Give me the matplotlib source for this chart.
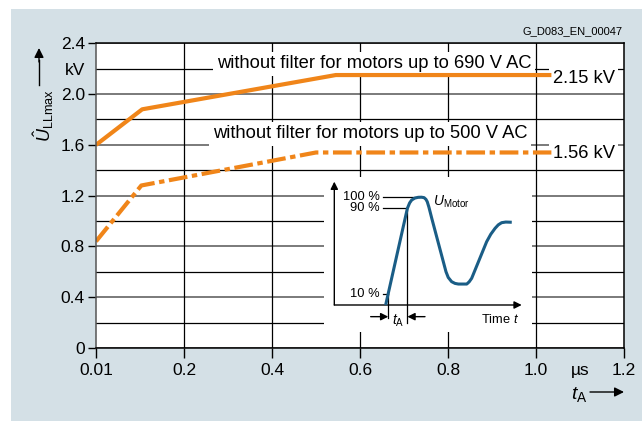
import matplotlib

matplotlib.use("Agg")
import matplotlib.pyplot as plt
from matplotlib.patches import Rectangle

plt.rcParams["font.family"] = ["Liberation Sans", "DejaVu Sans"]
plt.rcParams["mathtext.fontset"] = "custom"
plt.rcParams["mathtext.rm"] = "Liberation Sans"
plt.rcParams["mathtext.it"] = "Liberation Sans:italic"

# main chart: peak voltage over rise time (µs, kV)
t_690 = [0.0, 0.105, 0.545, 1.035]
u_690 = [1.60, 1.88, 2.15, 2.15]
t_500 = [0.0, 0.103, 0.50, 1.035]
u_500 = [0.84, 1.28, 1.54, 1.54]
label_690 = "without filter for motors up to 690 V AC"
label_500 = "without filter for motors up to 500 V AC"
value_690 = "2.15 kV"
value_500 = "1.56 kV"

x_ticks = [0.0, 0.2, 0.4, 0.6, 0.8, 1.0, 1.1, 1.2]
x_labels = ["0.01", "0.2", "0.4", "0.6", "0.8", "1.0", "µs", "1.2"]
y_ticks = [0.0, 0.4, 0.8, 1.2, 1.6, 2.0, 2.2, 2.4]
y_labels = ["0", "0.4", "0.8", "1.2", "1.6", "2.0", "kV", "2.4"]
y_minor = [0.2, 0.6, 1.0, 1.4, 1.8]
x_grid = [0.2, 0.4, 0.6, 0.8, 1.0]

# inset sketch: motor voltage over time (time in arbitrary units, %)
sketch_t = [27.4, 28.8, 39.0, 40.2, 41.3, 43.0, 44.8, 46.5, 47.9, 48.9, 49.6, 50.5, 52.0,
            59.6, 60.8, 62.6, 64.4, 66.2, 70.7, 72.0, 73.3, 81.3, 83.5, 85.8, 87.5, 89.3, 91.5, 94.7]
sketch_u = [0, 10.8, 89.5, 94.5, 97.2, 99.0, 99.7, 99.8, 99.4, 97.8, 95.6, 90.5, 80.3,
            30.8, 25.5, 21.6, 20.0, 19.4, 19.4, 21.5, 24.7, 58.6, 65.5, 71.0, 74.2, 76.2, 76.8, 76.6]
level_pct = [100, 90, 10]
level_t = [45.0, 39.0, 28.8]
t_a_start, t_a_end = 28.8, 39.0

ORANGE = "#f08519"
BLUE = "#1a5d86"
PANEL = "#d4e0e6"

W, H = 642, 421
fig = plt.figure(figsize=(W / 100, H / 100), dpi=100)
fig.add_artist(Rectangle((11 / W, 0), 1, 1 - 9 / H, transform=fig.transFigure,
                         facecolor=PANEL, edgecolor="none", zorder=0))

ax = fig.add_axes([96 / W, (H - 348) / H, 528 / W, 304.7 / H])
ax.set_facecolor("white")
ax.set_xlim(0, 1.2)
ax.set_ylim(0, 2.4)

for yv in y_ticks:
    major = round(yv / 0.4, 3) == round(yv / 0.4)
    ax.axhline(yv, color="#707070" if major else "black", lw=1.3 if major else 0.9, zorder=1)
for yv in y_minor:
    ax.axhline(yv, color="black", lw=0.9, zorder=1)
for xv in x_grid:
    ax.axvline(xv, color="black", lw=0.9, zorder=1)

ax.plot(t_690, u_690, color=ORANGE, lw=3.0, solid_capstyle="butt", zorder=5)
ax.plot(t_500, u_500, color=ORANGE, lw=3.0, dash_capstyle="butt",
        linestyle=(0, (4.5, 1.1, 1.3, 1.1)), zorder=5)

box = dict(facecolor="white", edgecolor="none", pad=2.5)
ax.text(0.274, 2.205, label_690, fontsize=13.2, va="baseline", ha="left", bbox=box, zorder=3)
ax.text(0.265, 1.652, label_500, fontsize=13.2, va="baseline", ha="left", bbox=box, zorder=3)
ax.text(1.038, 2.087, value_690, fontsize=13.2, va="baseline", ha="left", bbox=box, zorder=3)
ax.text(1.038, 1.496, value_500, fontsize=13.2, va="baseline", ha="left", bbox=box, zorder=3)

ax.set_xticks(x_ticks)
ax.set_xticklabels(x_labels)
ax.set_yticks(y_ticks)
ax.set_yticklabels(y_labels)
ax.tick_params(axis="x", direction="out", length=7, width=1, pad=4, labelsize=12.5)
ax.tick_params(axis="y", direction="out", length=6, width=1, pad=2, labelsize=12.5)
ax.xaxis.get_major_ticks()[6].tick1line.set_visible(False)
ax.yaxis.get_major_ticks()[6].tick1line.set_visible(False)
for s in ax.spines.values():
    s.set_linewidth(1.1)
    s.set_zorder(6)
ax.spines["left"].set_color("#555555")

# axis names with arrows
fig.text(44 / W, 1 - 116 / H, r"$\hat{U}_{\mathrm{LLmax}}$", rotation=90, fontsize=13,
         ha="center", va="center")
fig.add_artist(plt.Line2D([39 / W, 39 / W], [1 - 85 / H, 1 - 60 / H], color="black", lw=1))
ax.annotate("", xy=(39, H - 48), xytext=(39, H - 62), xycoords="figure pixels",
            arrowprops=dict(arrowstyle="-|>", color="black", lw=1, mutation_scale=14,
                            shrinkA=0, shrinkB=0))
fig.text(579 / W, 1 - 394 / H, r"$t_{\mathrm{A}}$", fontsize=14, ha="center", va="center")
ax.annotate("", xy=(624, H - 392), xytext=(590, H - 392), xycoords="figure pixels",
            arrowprops=dict(arrowstyle="-|>", color="black", lw=1, mutation_scale=14,
                            shrinkA=0, shrinkB=0))

fig.text(622.7 / W, 1 - 31 / H, "G_D083_EN_00047", fontsize=8, ha="right", va="center")

# inset sketch
ins = fig.add_axes([324 / W, (H - 332) / H, 208 / W, 155 / H])
ins.set_facecolor("white")
ins.set_xlim(-5.5, 105.5)
ins.set_ylim(-25, 118.5)
ins.set_xticks([])
ins.set_yticks([])
for s in ins.spines.values():
    s.set_visible(False)

arrow = dict(arrowstyle="-|>", color="black", lw=1, mutation_scale=11, shrinkA=0, shrinkB=0)
ins.annotate("", xy=(0, 114.2), xytext=(0, 0), arrowprops=arrow)
ins.annotate("", xy=(100, 0), xytext=(0, 0), arrowprops=arrow)
ins.plot(sketch_t, sketch_u, color=BLUE, lw=2.2, solid_joinstyle="round", solid_capstyle="butt", zorder=4)

for pct, tx in zip(level_pct, level_t):
    ins.plot([26.0, tx], [pct, pct], color="black", lw=0.9)
    ins.text(24.4, pct, f"{pct} %", fontsize=9.3, ha="right", va="center")

ins.plot([t_a_start, t_a_start], [10.8, -12], color="black", lw=0.9)
ins.plot([t_a_end, t_a_end], [89.5, -16.7], color="black", lw=0.9)
ins.annotate("", xy=(t_a_start, -10.8), xytext=(19.4, -10.8), arrowprops=arrow)
ins.annotate("", xy=(t_a_end, -10.8), xytext=(48.4, -10.8), arrowprops=arrow)
ins.text(34.3, -14.5, r"$t_{\mathrm{A}}$", fontsize=10, ha="center", va="center")
ins.text(98.7, -13.5, r"Time $t$", fontsize=9.3, ha="right", va="center")
ins.text(52.8, 96, r"$U_{\mathrm{Motor}}$", fontsize=10, ha="left", va="center")

fig.savefig("out.png", dpi=100)
